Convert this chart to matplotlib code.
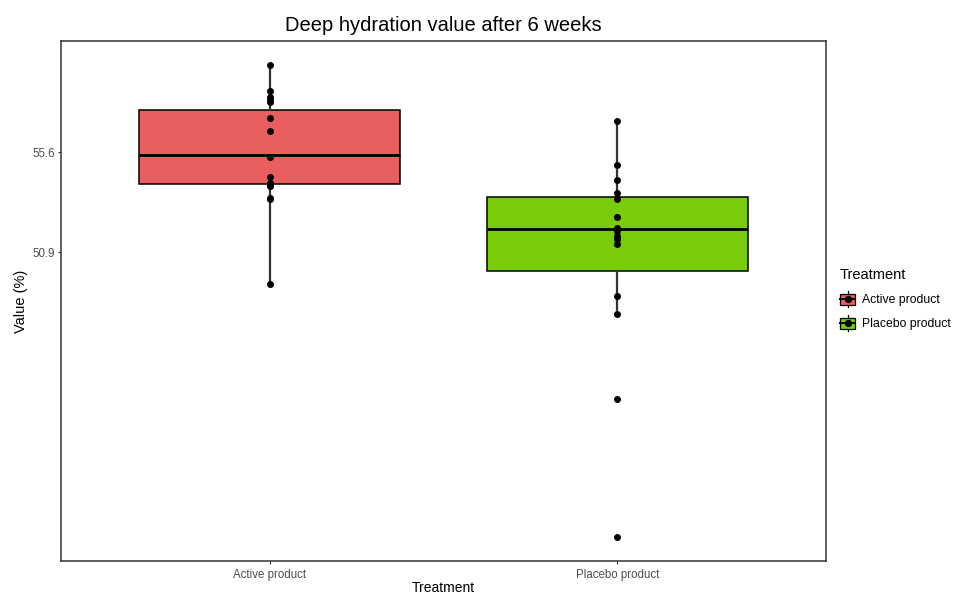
import numpy as np
import matplotlib
matplotlib.use('Agg')
import matplotlib.pyplot as plt
from matplotlib.legend_handler import HandlerBase
from matplotlib.lines import Line2D
from matplotlib.patches import Rectangle, Patch

plt.rcParams['font.family'] = ['Liberation Sans', 'DejaVu Sans']

treatments = ['Active product', 'Placebo product']
box_colors = ['#E95E5E', '#78CC0A']

# individual measurements (%)
active_values = [59.72, 58.50, 58.19, 58.06, 57.95, 57.20, 56.62, 55.39,
                 54.45, 54.17, 54.10, 54.02, 53.44, 53.39, 49.44]
placebo_values = [57.07, 54.99, 54.30, 53.70, 53.39, 52.57, 52.03, 51.90,
                  51.67, 51.51, 51.28, 48.85, 47.99, 44.04, 37.52]

# box summaries: lower whisker, Q1, median, Q3, upper whisker
whisker_low = [49.44, 47.99]
q1 = [54.10, 50.04]
median = [55.46, 51.98]
q3 = [57.59, 53.51]
whisker_high = [59.72, 57.07]

y_ticks = [55.6, 50.9]


class BoxKey(HandlerBase):
    # small boxplot glyph for the legend keys
    def create_artists(self, legend, orig_handle, xdescent, ydescent,
                       width, height, fontsize, trans):
        cx = width / 2 - xdescent
        cy = height / 2 - ydescent
        stem = Line2D([cx, cx], [cy - height * 0.6, cy + height * 0.6],
                      color='black', lw=0.9)
        rect = Rectangle((cx - width * 0.46, cy - height * 0.42),
                         width * 0.92, height * 0.84,
                         facecolor=orig_handle.get_facecolor(),
                         edgecolor='black', lw=0.9)
        mid = Line2D([cx - width * 0.46, cx + width * 0.46], [cy, cy],
                     color='black', lw=1.4)
        dot = Line2D([cx], [cy], marker='o', ms=4.3, color='black', lw=0)
        arts = [stem, rect, mid, dot]
        for a in arts:
            a.set_transform(trans)
        return arts


fig = plt.figure(figsize=(9.56, 5.95), dpi=100)
ax = fig.add_axes([0.0638, 0.0571, 0.8002, 0.8740])

positions = np.arange(1, len(treatments) + 1)
stats = []
for i, name in enumerate(treatments):
    stats.append({'label': name, 'whislo': whisker_low[i], 'q1': q1[i],
                  'med': median[i], 'q3': q3[i], 'whishi': whisker_high[i]})

bp = ax.bxp(stats, positions=positions, widths=0.75, patch_artist=True,
            showfliers=False, showcaps=False,
            boxprops=dict(edgecolor='black', linewidth=1.1),
            medianprops=dict(color='black', linewidth=2.0),
            whiskerprops=dict(color='#333333', linewidth=1.6))
for patch, col in zip(bp['boxes'], box_colors):
    patch.set_facecolor(col)

for pos, vals in zip(positions, [active_values, placebo_values]):
    ax.plot(np.full(len(vals), pos), vals, 'o', color='black', ms=4.0,
            zorder=4)

ax.set_xlim(0.4, 2.6)
ax.set_ylim(36.41, 60.83)
ax.set_xticks(positions)
ax.set_xticklabels(treatments)
ax.set_yticks(y_ticks)
ax.set_yticklabels([str(t) for t in y_ticks])
ax.tick_params(axis='both', labelsize=8.3, labelcolor='#4D4D4D',
               color='#333333', length=2.5, width=0.8, pad=2)
ax.tick_params(axis='x', pad=3)
for sp in ax.spines.values():
    sp.set_color('#333333')
    sp.set_linewidth(1.1)

ax.set_title('Deep hydration value after 6 weeks', fontsize=14.5, pad=7)
ax.set_xlabel('Treatment', fontsize=10, labelpad=0.5)
ax.set_ylabel('Value (%)', fontsize=10.5, labelpad=3)

handles = [Patch(facecolor=c, edgecolor='black') for c in box_colors]
leg = ax.legend(handles, treatments, title='Treatment',
                handler_map={Patch: BoxKey()},
                loc='center left', bbox_to_anchor=(0.872, 0.497),
                bbox_transform=fig.transFigure, frameon=False,
                fontsize=8.8, title_fontsize=10.5, alignment='left',
                handlelength=1.3, handleheight=1.3, handletextpad=0.55,
                labelspacing=0.85, borderpad=0)

fig.savefig('out.png', dpi=100)
